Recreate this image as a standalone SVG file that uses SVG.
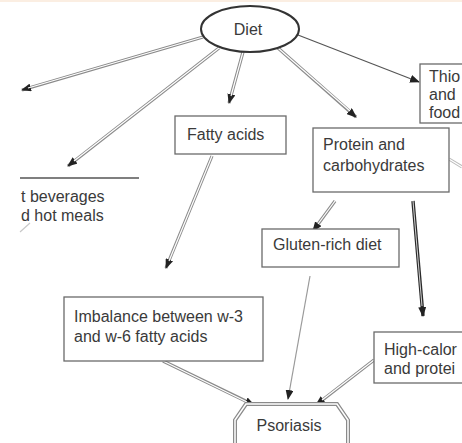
<svg xmlns="http://www.w3.org/2000/svg" width="462" height="443" viewBox="0 0 462 443">
<style>
  .bg{fill:#ffffff}
  .box{fill:#ffffff;stroke:#6a6a6a;stroke-width:1.3}
  .t{font-family:"Liberation Sans",Arial,sans-serif;font-size:16px;fill:#3a3a3a}
  .o{fill:none;stroke:#8a8a8a;stroke-width:3.2}
  .i{fill:none;stroke:#ffffff;stroke-width:1.2}
  .s{fill:none;stroke:#7a7a7a;stroke-width:1.2}
  .dk{fill:none;stroke:#2a2a2a;stroke-width:3.4}
</style>
<defs>
  <marker id="ah" markerUnits="userSpaceOnUse" markerWidth="10" markerHeight="8" refX="9" refY="4" orient="auto">
    <path d="M0,0 L10,4 L0,8 z" fill="#222"/>
  </marker>
</defs>
<rect class="bg" x="0" y="0" width="462" height="443"/>
<rect x="0" y="0" width="462" height="2" fill="#fbeee2"/>

<g id="connectors">
  <path class="o" d="M203,37 L22,90" marker-end="url(#ah)"/>
  <path class="i" d="M203,37 L28,88"/>
  <path class="o" d="M219,48 L68,166" marker-end="url(#ah)"/>
  <path class="i" d="M219,48 L74,161"/>
  <path class="o" d="M243,52 L229,103" marker-end="url(#ah)"/>
  <path class="i" d="M243,52 L231,96"/>
  <path class="o" d="M278,48 L356,117" marker-end="url(#ah)"/>
  <path class="i" d="M278,48 L350,111"/>
  <path class="s" d="M298,35 L419,82" marker-end="url(#ah)" style="stroke:#555"/>
  <path class="o" d="M212,156 L166,268" marker-end="url(#ah)"/>
  <path class="i" d="M212,156 L169,261"/>
  <path class="o" d="M335,201 L313,231" marker-end="url(#ah)"/>
  <path class="i" d="M335,201 L318,224"/>
  <path class="dk" d="M413,201 L423,316" marker-end="url(#ah)"/>
  <path class="i" d="M413,201 L422,306" style="stroke-width:0.8"/>
  <path class="s" d="M310,276 L288,399" marker-end="url(#ah)" style="stroke:#9a9a9a"/>
  <path class="o" d="M163,361 L254,405" marker-end="url(#ah)"/>
  <path class="i" d="M163,361 L247,402"/>
  <path class="o" d="M374,360 L316,405" marker-end="url(#ah)"/>
  <path class="i" d="M374,360 L322,400"/>
  <path class="o" d="M449,159 L462,167" style="stroke:#bbb"/>
  <path class="i" d="M449,159 L462,167"/>
  <path class="s" d="M20,232 L30,223" style="stroke:#c8c8c8"/>
</g>

<g id="diet">
  <ellipse cx="250" cy="29" rx="49" ry="23" fill="#ffffff" stroke="#333" stroke-width="2"/>
  <text class="t" x="248" y="35" text-anchor="middle">Diet</text>
</g>

<g id="beverages">
  <line x1="20" y1="178" x2="139" y2="178" stroke="#555" stroke-width="1.3"/>
  <text class="t" x="21" y="202">t beverages</text>
  <text class="t" x="21" y="221">d hot meals</text>
</g>

<g id="fatty-acids">
  <rect class="box" x="175" y="116" width="111" height="38"/>
  <text class="t" x="187" y="140">Fatty acids</text>
</g>

<g id="protein">
  <rect class="box" x="313" y="128" width="136" height="64"/>
  <text class="t" x="323" y="150">Protein and</text>
  <text class="t" x="323" y="171">carbohydrates</text>
</g>

<g id="thio">
  <rect class="box" x="420" y="64" width="50" height="59"/>
  <text class="t" x="429" y="82">Thio</text>
  <text class="t" x="429" y="100">and</text>
  <text class="t" x="429" y="118">food</text>
</g>

<g id="gluten">
  <rect class="box" x="262" y="229" width="137" height="38"/>
  <text class="t" x="273" y="250">Gluten-rich diet</text>
</g>

<g id="imbalance">
  <rect class="box" x="64" y="297" width="199" height="64"/>
  <text class="t" x="74" y="322">Imbalance between w-3</text>
  <text class="t" x="74" y="342">and w-6 fatty acids</text>
</g>

<g id="high-calorie">
  <rect class="box" x="374" y="332" width="100" height="51"/>
  <text class="t" x="384" y="355">High-calor</text>
  <text class="t" x="384" y="374">and protei</text>
</g>

<g id="psoriasis">
  <path d="M235,450 L235,420 L246,404 L337,404 L348,420 L348,450" fill="#ffffff" stroke="#8a8a8a" stroke-width="4"/>
  <path d="M235,450 L235,420 L246,404 L337,404 L348,420 L348,450" fill="none" stroke="#ffffff" stroke-width="1.5"/>
  <text class="t" x="289" y="431" text-anchor="middle">Psoriasis</text>
</g>
</svg>
